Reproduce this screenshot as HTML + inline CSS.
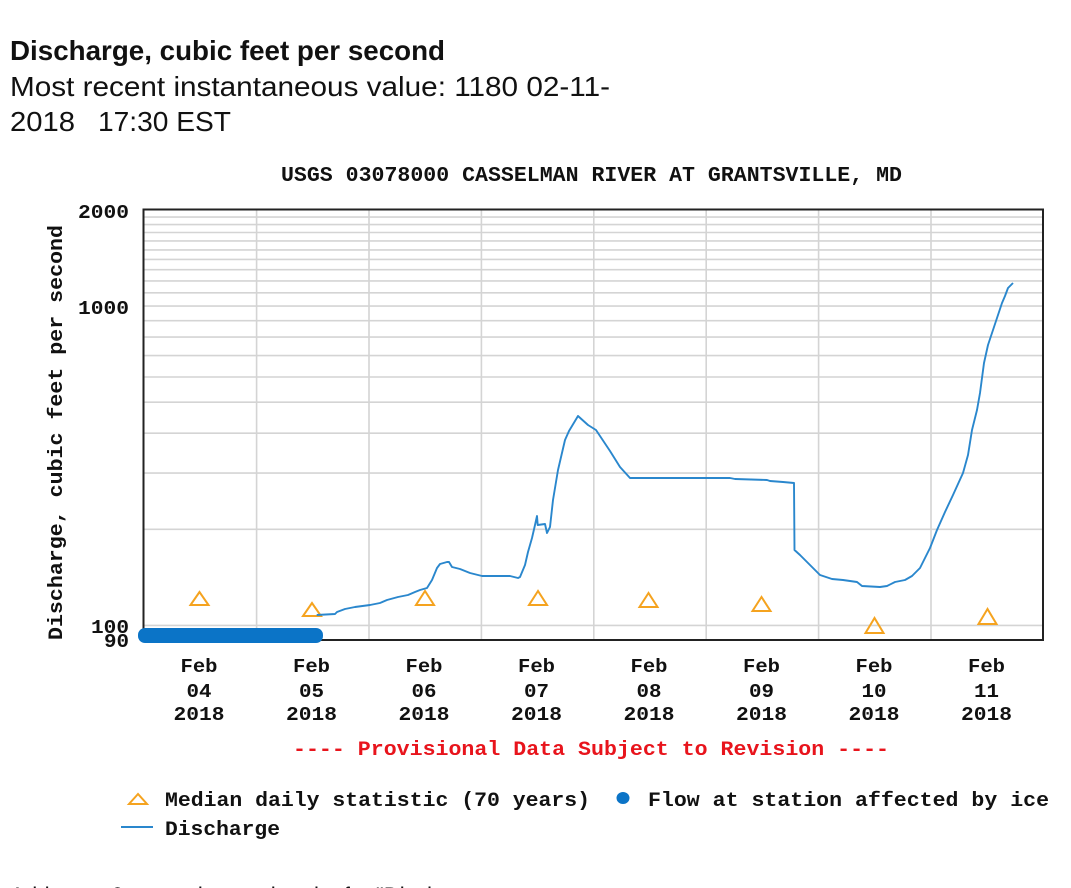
<!DOCTYPE html>
<html>
<head>
<meta charset="utf-8">
<style>
  html,body{margin:0;padding:0;background:#fff;}
  body{width:1071px;height:888px;overflow:hidden;}
  svg{display:block;}
  .mono{font-family:"Liberation Mono",monospace;font-weight:bold;fill:#111;}
  .sans{font-family:"Liberation Sans",sans-serif;fill:#111;}
</style>
</head>
<body>
<svg width="1071" height="888" viewBox="0 0 1071 888" xmlns="http://www.w3.org/2000/svg">
  <rect x="0" y="0" width="1071" height="888" fill="#fff"/>

  <!-- Header -->
  <text class="sans" x="10" y="60" font-size="28" font-weight="bold" textLength="435" lengthAdjust="spacingAndGlyphs">Discharge, cubic feet per second</text>
  <text class="sans" x="10" y="96" font-size="28" textLength="600" lengthAdjust="spacingAndGlyphs">Most recent instantaneous value: 1180 02-11-</text>
  <text class="sans" x="10" y="131" font-size="28" textLength="65" lengthAdjust="spacingAndGlyphs">2018</text>
  <text class="sans" x="98" y="131" font-size="28" textLength="133" lengthAdjust="spacingAndGlyphs">17:30 EST</text>

  <!-- Chart title -->
  <text class="mono" x="281" y="181" font-size="21" textLength="621" lengthAdjust="spacingAndGlyphs">USGS 03078000 CASSELMAN RIVER AT GRANTSVILLE, MD</text>

  <!-- Grid -->
  <g stroke="#d4d4d4" stroke-width="1.6" fill="none">
    <line x1="144" x2="1043" y1="217.1" y2="217.1"/>
    <line x1="144" x2="1043" y1="224.6" y2="224.6"/>
    <line x1="144" x2="1043" y1="232.5" y2="232.5"/>
    <line x1="144" x2="1043" y1="240.9" y2="240.9"/>
    <line x1="144" x2="1043" y1="249.9" y2="249.9"/>
    <line x1="144" x2="1043" y1="259.4" y2="259.4"/>
    <line x1="144" x2="1043" y1="269.7" y2="269.7"/>
    <line x1="144" x2="1043" y1="280.9" y2="280.9"/>
    <line x1="144" x2="1043" y1="292.8" y2="292.8"/>
    <line x1="144" x2="1043" y1="306.1" y2="306.1"/>
    <line x1="144" x2="1043" y1="320.7" y2="320.7"/>
    <line x1="144" x2="1043" y1="337.1" y2="337.1"/>
    <line x1="144" x2="1043" y1="355.6" y2="355.6"/>
    <line x1="144" x2="1043" y1="377.0" y2="377.0"/>
    <line x1="144" x2="1043" y1="402.2" y2="402.2"/>
    <line x1="144" x2="1043" y1="433.2" y2="433.2"/>
    <line x1="144" x2="1043" y1="473.1" y2="473.1"/>
    <line x1="144" x2="1043" y1="529.3" y2="529.3"/>
    <line x1="144" x2="1043" y1="625.4" y2="625.4"/>
    <line x1="256.6" x2="256.6" y1="210" y2="640"/>
    <line x1="369.0" x2="369.0" y1="210" y2="640"/>
    <line x1="481.4" x2="481.4" y1="210" y2="640"/>
    <line x1="593.8" x2="593.8" y1="210" y2="640"/>
    <line x1="706.2" x2="706.2" y1="210" y2="640"/>
    <line x1="818.6" x2="818.6" y1="210" y2="640"/>
    <line x1="931.0" x2="931.0" y1="210" y2="640"/>
  </g>

  <!-- Plot border -->
  <rect x="143.5" y="209.5" width="899.5" height="430.5" fill="none" stroke="#222" stroke-width="2"/>

  <!-- Y axis labels -->
  <g class="mono" font-size="19.5" text-anchor="end">
    <text x="129" y="218" textLength="51" lengthAdjust="spacingAndGlyphs">2000</text>
    <text x="129" y="314" textLength="51" lengthAdjust="spacingAndGlyphs">1000</text>
    <text x="129" y="633" textLength="38" lengthAdjust="spacingAndGlyphs">100</text>
    <text x="129" y="647" textLength="25" lengthAdjust="spacingAndGlyphs">90</text>
  </g>

  <!-- Y axis title -->
  <text class="mono" font-size="20" transform="translate(62,640) rotate(-90)" x="0" y="0" textLength="415" lengthAdjust="spacingAndGlyphs">Discharge, cubic feet per second</text>

  <!-- X axis labels -->
  <g class="mono" font-size="19.5" text-anchor="middle">
    <text x="199" y="672" textLength="37" lengthAdjust="spacingAndGlyphs">Feb</text>
    <text x="199" y="697" textLength="25" lengthAdjust="spacingAndGlyphs">04</text>
    <text x="199" y="720" textLength="51" lengthAdjust="spacingAndGlyphs">2018</text>

    <text x="311.5" y="672" textLength="37" lengthAdjust="spacingAndGlyphs">Feb</text>
    <text x="311.5" y="697" textLength="25" lengthAdjust="spacingAndGlyphs">05</text>
    <text x="311.5" y="720" textLength="51" lengthAdjust="spacingAndGlyphs">2018</text>

    <text x="424" y="672" textLength="37" lengthAdjust="spacingAndGlyphs">Feb</text>
    <text x="424" y="697" textLength="25" lengthAdjust="spacingAndGlyphs">06</text>
    <text x="424" y="720" textLength="51" lengthAdjust="spacingAndGlyphs">2018</text>

    <text x="536.5" y="672" textLength="37" lengthAdjust="spacingAndGlyphs">Feb</text>
    <text x="536.5" y="697" textLength="25" lengthAdjust="spacingAndGlyphs">07</text>
    <text x="536.5" y="720" textLength="51" lengthAdjust="spacingAndGlyphs">2018</text>

    <text x="649" y="672" textLength="37" lengthAdjust="spacingAndGlyphs">Feb</text>
    <text x="649" y="697" textLength="25" lengthAdjust="spacingAndGlyphs">08</text>
    <text x="649" y="720" textLength="51" lengthAdjust="spacingAndGlyphs">2018</text>

    <text x="761.5" y="672" textLength="37" lengthAdjust="spacingAndGlyphs">Feb</text>
    <text x="761.5" y="697" textLength="25" lengthAdjust="spacingAndGlyphs">09</text>
    <text x="761.5" y="720" textLength="51" lengthAdjust="spacingAndGlyphs">2018</text>

    <text x="874" y="672" textLength="37" lengthAdjust="spacingAndGlyphs">Feb</text>
    <text x="874" y="697" textLength="25" lengthAdjust="spacingAndGlyphs">10</text>
    <text x="874" y="720" textLength="51" lengthAdjust="spacingAndGlyphs">2018</text>

    <text x="986.5" y="672" textLength="37" lengthAdjust="spacingAndGlyphs">Feb</text>
    <text x="986.5" y="697" textLength="25" lengthAdjust="spacingAndGlyphs">11</text>
    <text x="986.5" y="720" textLength="51" lengthAdjust="spacingAndGlyphs">2018</text>
  </g>

  <!-- Median triangles -->
  <g fill="none" stroke="#f5a31f" stroke-width="2" stroke-linejoin="miter">
    <polygon points="199.5,592 190.5,605 208.5,605"/>
    <polygon points="312,603 303,616 321,616"/>
    <polygon points="425,591 416,605 434,605"/>
    <polygon points="538,591 529,605 547,605"/>
    <polygon points="648.5,593 639.5,607 657.5,607"/>
    <polygon points="761.5,597 752.5,611 770.5,611"/>
    <polygon points="874.5,618 865.5,633 883.5,633"/>
    <polygon points="987.5,609 978.5,624 996.5,624"/>
  </g>

  <!-- Discharge line -->
  <polyline fill="none" stroke="#2a87cd" stroke-width="1.9" stroke-linejoin="round" points="
    316.7,615 335,614 337,612 345,609 355,607 370,605 380,603 387,600 398,597 408,595 415,592 420,590 427,588
    432,580 437,568 440,564 447,562 449,562 452,567 460,569 470,573 482,576 510,576 518,578 520,577
    525,565 528,552 532,538 535,525 537,516 537.7,525 545,524 547,533 550,527 553,500 558,470 565,440
    569,431 578,416 588,425 596,430 610,451 620,467 630,478 730,478 735,479 767,480 770,481 783,482 794,483
    794.5,550 800,555 808,563 820,575 832,579 843,580 857,582 862,586 880,587 887,586 895,582 905,580
    912,576 920,568 930,548 937,530 945,512 953,495 963,473 968,455 972,430 977,410 980,393 984,363
    988,345 993,330 998,315 1002,303 1005,296 1008,288 1013,283"/>

  <!-- Ice-affected markers -->
  <rect x="138" y="628" width="185" height="15" rx="7" ry="7" fill="#0b74c7"/>

  <!-- Provisional note -->
  <text class="mono" x="293" y="755" font-size="20" style="fill:#e8141c" textLength="596" lengthAdjust="spacingAndGlyphs">---- Provisional Data Subject to Revision ----</text>

  <!-- Legend -->
  <polygon points="138,794 129,804 147,804" fill="none" stroke="#f5a31f" stroke-width="2"/>
  <text class="mono" x="165" y="806" font-size="20" textLength="425" lengthAdjust="spacingAndGlyphs">Median daily statistic (70 years)</text>
  <ellipse cx="623" cy="798" rx="6.5" ry="6" fill="#0b74c7"/>
  <text class="mono" x="648" y="806" font-size="20" textLength="401" lengthAdjust="spacingAndGlyphs">Flow at station affected by ice</text>
  <line x1="121" x2="153" y1="827" y2="827" stroke="#2a87cd" stroke-width="2"/>
  <text class="mono" x="165" y="835" font-size="20" textLength="115" lengthAdjust="spacingAndGlyphs">Discharge</text>

  <!-- Cut-off bottom text -->
  <text class="sans" x="10" y="906" font-size="27" textLength="480" lengthAdjust="spacingAndGlyphs">Add up to 3 more sites and replot for "Discharge,</text>
</svg>
</body>
</html>
